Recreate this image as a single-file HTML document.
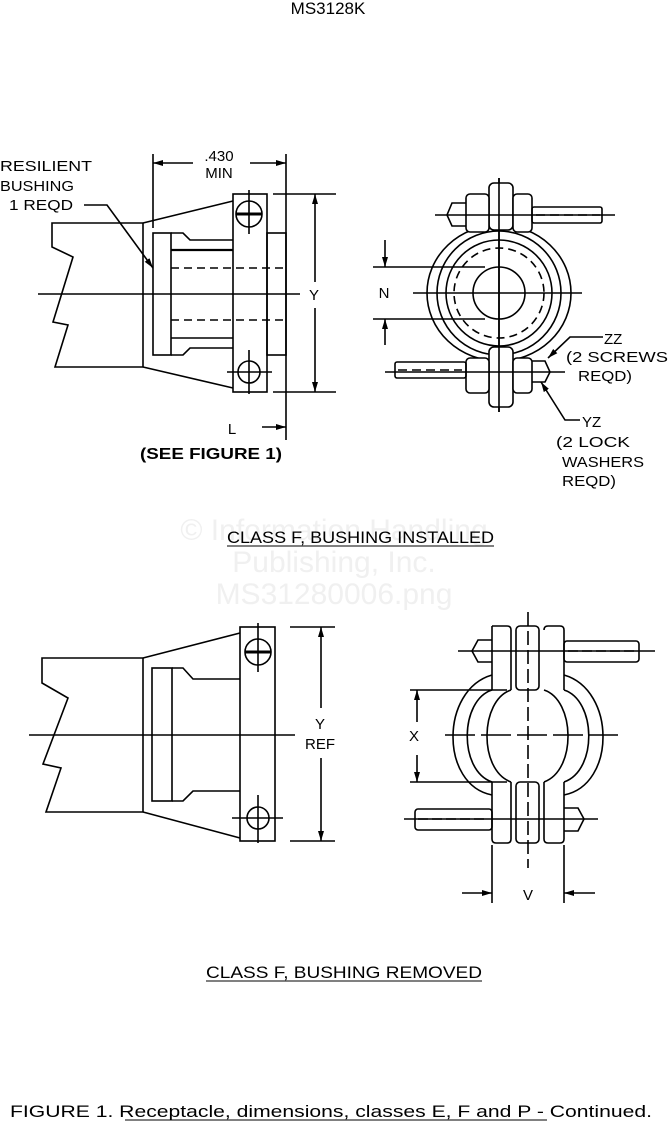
<!DOCTYPE html>
<html><head><meta charset="utf-8"><style>
html,body{margin:0;padding:0;background:#fff;}
svg{display:block;}
text{font-family:"Liberation Sans",sans-serif;fill:#000;}
</style></head><body>
<svg width="668" height="1125" viewBox="0 0 668 1125" xmlns="http://www.w3.org/2000/svg">
<defs>
<marker id="ar" viewBox="0 0 10 6" refX="10" refY="3" markerWidth="10" markerHeight="6" orient="auto-start-reverse" markerUnits="userSpaceOnUse"><path d="M0,0L10,3L0,6z" fill="#000"/></marker>
</defs>
<text x="328" y="14" font-size="17" text-anchor="middle">MS3128K</text>

<!-- watermark -->
<g font-size="30" text-anchor="middle">
<text x="334" y="540" style="fill:#f0f0f0">© Information Handling</text>
<text x="334" y="572" style="fill:#f0f0f0">Publishing, Inc.</text>
<text x="334" y="604" style="fill:#f0f0f0">MS31280006.png</text>
</g>

<g fill="none" stroke="#000" stroke-width="1.6">
<!-- TOP LEFT -->
<polyline points="143,223 52,223 52,247 73,257 53,322 68,325 55,367 143,367"/>
<line x1="143" y1="223" x2="143" y2="367"/>
<line x1="143" y1="223" x2="233" y2="201"/>
<line x1="143" y1="367" x2="233" y2="388"/>
<rect x="233" y="194" width="34" height="198"/>
<rect x="153" y="233" width="18" height="122"/>
<polyline points="171,233 183,233 190,240 233,240"/>
<polyline points="171,355 183,355 190,348 233,348"/>
<line x1="171" y1="250" x2="233" y2="250" stroke-width="2.2"/>
<line x1="171" y1="338" x2="233" y2="338"/>
<line x1="171" y1="268" x2="286" y2="268" stroke-dasharray="8,5"/>
<line x1="171" y1="320" x2="286" y2="320" stroke-dasharray="8,5"/>
<rect x="267" y="233" width="19" height="122"/>
<line x1="38" y1="294" x2="300" y2="294"/>
<circle cx="249" cy="214" r="13"/>
<line x1="236" y1="214" x2="262" y2="214" stroke-width="3"/>
<line x1="249" y1="190" x2="249" y2="234"/>
<circle cx="249" cy="372" r="11"/>
<line x1="227" y1="372" x2="272" y2="372"/>
<line x1="249" y1="350" x2="249" y2="394"/>
<!-- dims -->
<line x1="153" y1="154" x2="153" y2="228"/>
<line x1="286" y1="154" x2="286" y2="440"/>
<line x1="153" y1="163" x2="193" y2="163" marker-start="url(#ar)"/>
<line x1="250" y1="163" x2="286" y2="163" marker-end="url(#ar)"/>
<line x1="273" y1="194" x2="336" y2="194"/>
<line x1="273" y1="392" x2="336" y2="392"/>
<line x1="315" y1="194" x2="315" y2="282" marker-start="url(#ar)"/>
<line x1="315" y1="308" x2="315" y2="392" marker-end="url(#ar)"/>
<line x1="262" y1="427" x2="286" y2="427" marker-end="url(#ar)"/>
<polyline points="84,205 107,205 153,268" marker-end="url(#ar)"/>

<!-- TOP RIGHT -->
<line x1="499" y1="178" x2="499" y2="412"/>
<ellipse cx="499" cy="293" rx="72" ry="68"/>
<ellipse cx="499" cy="293" rx="62" ry="62"/>
<circle cx="499" cy="293" r="53"/>
<circle cx="499" cy="293" r="45" stroke-dasharray="8,5"/>
<circle cx="499" cy="293" r="26"/>
<line x1="413" y1="293" x2="582" y2="293"/>
<rect x="489" y="183" width="24" height="47" rx="5" fill="#fff"/>
<rect x="466" y="194" width="23" height="38" rx="4" fill="#fff"/>
<rect x="513" y="194" width="19" height="38" rx="4" fill="#fff"/>
<rect x="532" y="207" width="70" height="16" rx="2"/>
<line x1="536" y1="215" x2="600" y2="215" stroke-dasharray="9,5"/>
<path d="M466,203 L452,203 L447,215 L452,226 L466,226"/>
<line x1="435" y1="215" x2="615" y2="215"/>
<rect x="489" y="347" width="24" height="60" rx="5" fill="#fff"/>
<rect x="466" y="358" width="23" height="35" rx="4" fill="#fff"/>
<rect x="513" y="358" width="19" height="35" rx="4" fill="#fff"/>
<rect x="395" y="362" width="71" height="16" rx="2"/>
<line x1="398" y1="370" x2="462" y2="370" stroke-dasharray="9,5"/>
<path d="M532,361 L545,361 L550,372 L545,382 L532,382"/>
<line x1="385" y1="372" x2="565" y2="372"/>
<line x1="499" y1="178" x2="499" y2="412"/>
<line x1="373" y1="267" x2="485" y2="267"/>
<line x1="373" y1="319" x2="485" y2="319"/>
<line x1="385" y1="240" x2="385" y2="267" marker-end="url(#ar)"/>
<line x1="385" y1="345" x2="385" y2="319" marker-end="url(#ar)"/>
<polyline points="603,337 570,337 548,358" marker-end="url(#ar)"/>
<polyline points="580,420 565,420 541,382" marker-end="url(#ar)"/>

<!-- BOTTOM LEFT -->
<polyline points="143,658 42,658 42,683 68,698 43,764 61,768 46,812 143,812"/>
<line x1="143" y1="658" x2="143" y2="812"/>
<line x1="143" y1="658" x2="240" y2="633"/>
<line x1="143" y1="812" x2="240" y2="838"/>
<rect x="240" y="627" width="35" height="214"/>
<rect x="152" y="668" width="20" height="133"/>
<polyline points="172,668 183,668 193,679 240,679"/>
<polyline points="172,801 183,801 193,791 240,791"/>
<line x1="29" y1="735" x2="295" y2="735"/>
<circle cx="258" cy="652" r="13"/>
<line x1="245" y1="652" x2="271" y2="652" stroke-width="3"/>
<line x1="258" y1="623" x2="258" y2="672"/>
<circle cx="258" cy="818" r="11"/>
<line x1="232" y1="818" x2="283" y2="818"/>
<line x1="258" y1="795" x2="258" y2="843"/>
<line x1="290" y1="627" x2="335" y2="627"/>
<line x1="290" y1="841" x2="335" y2="841"/>
<line x1="321" y1="627" x2="321" y2="708" marker-start="url(#ar)"/>
<line x1="321" y1="758" x2="321" y2="841" marker-end="url(#ar)"/>

<!-- BOTTOM RIGHT -->
<path d="M492,675 C440,690 440,785 492,795"/>
<path d="M564,675 C616,690 616,785 564,795"/>
<path d="M492,690 C460,700 458,770 492,782"/>
<path d="M564,690 C596,700 598,770 564,782"/>
<path d="M511,690 C480,700 478,770 511,782"/>
<path d="M544,690 C575,700 577,770 544,782"/>
<path d="M492,626 Q492,626 496,626 L507,626 Q511,626 511,630 L511,690"/>
<path d="M492,626 L492,690"/>
<path d="M544,630 Q544,626 548,626 L560,626 Q564,626 564,630 L564,690"/>
<path d="M511,782 L511,839 Q511,843 507,843 L496,843 Q492,843 492,839 L492,782"/>
<path d="M544,782 L544,839 Q544,843 548,843 L560,843 Q564,843 564,839 L564,782"/>
<rect x="516" y="626" width="23" height="64" rx="4"/>
<rect x="516" y="782" width="23" height="61" rx="4"/>
<line x1="528" y1="612" x2="528" y2="868" stroke-dasharray="14,5"/>
<line x1="445" y1="735" x2="618" y2="735" stroke-dasharray="30,6"/>
<rect x="564" y="641" width="75" height="21" rx="3"/>
<line x1="568" y1="651" x2="636" y2="651" stroke-dasharray="10,4"/>
<path d="M492,640 L478,640 L472,651 L478,662 L492,662"/>
<line x1="458" y1="651" x2="655" y2="651"/>
<rect x="415" y="809" width="77" height="21" rx="3"/>
<line x1="418" y1="819" x2="488" y2="819" stroke-dasharray="10,4"/>
<path d="M564,808 L578,808 L584,819 L578,831 L564,831"/>
<line x1="404" y1="819" x2="598" y2="819"/>
<line x1="410" y1="690" x2="507" y2="690"/>
<line x1="410" y1="782" x2="507" y2="782"/>
<line x1="417" y1="690" x2="417" y2="722" marker-start="url(#ar)"/>
<line x1="417" y1="755" x2="417" y2="782" marker-end="url(#ar)"/>
<line x1="492" y1="845" x2="492" y2="903"/>
<line x1="564" y1="845" x2="564" y2="903"/>
<line x1="462" y1="893" x2="492" y2="893" marker-end="url(#ar)"/>
<line x1="595" y1="893" x2="564" y2="893" marker-end="url(#ar)"/>
</g>

<g font-size="15">
<text x="0" y="171" textLength="92" lengthAdjust="spacingAndGlyphs">RESILIENT</text>
<text x="0" y="191" textLength="74" lengthAdjust="spacingAndGlyphs">BUSHING</text>
<text x="9" y="210" textLength="64" lengthAdjust="spacingAndGlyphs">1 REQD</text>
<text x="219" y="161" text-anchor="middle">.430</text>
<text x="219" y="178" text-anchor="middle">MIN</text>
<text x="314" y="300" text-anchor="middle">Y</text>
<text x="232" y="434" text-anchor="middle">L</text>
<text x="140" y="459" font-weight="bold" font-size="16" textLength="142" lengthAdjust="spacingAndGlyphs">(SEE FIGURE 1)</text>
<text x="384" y="298" text-anchor="middle">N</text>
<text x="604" y="344">ZZ</text>
<text x="566" y="362" textLength="102" lengthAdjust="spacingAndGlyphs">(2 SCREWS</text>
<text x="578" y="381" textLength="54" lengthAdjust="spacingAndGlyphs">REQD)</text>
<text x="582" y="427">YZ</text>
<text x="556" y="447" textLength="74" lengthAdjust="spacingAndGlyphs">(2 LOCK</text>
<text x="562" y="467" textLength="82" lengthAdjust="spacingAndGlyphs">WASHERS</text>
<text x="562" y="486" textLength="54" lengthAdjust="spacingAndGlyphs">REQD)</text>
<text x="320" y="729" text-anchor="middle">Y</text>
<text x="320" y="749" text-anchor="middle">REF</text>
<text x="414" y="741" text-anchor="middle">X</text>
<text x="528" y="900" text-anchor="middle">V</text>
</g>
<text x="227" y="543" font-size="17" textLength="267" lengthAdjust="spacingAndGlyphs">CLASS F, BUSHING INSTALLED</text>
<line x1="227" y1="546" x2="494" y2="546" stroke="#000" stroke-width="1"/>
<text x="206" y="978" font-size="17" textLength="276" lengthAdjust="spacingAndGlyphs">CLASS F, BUSHING REMOVED</text>
<line x1="206" y1="981" x2="482" y2="981" stroke="#000" stroke-width="1"/>
<text x="10" y="1117" font-size="17" textLength="642" lengthAdjust="spacingAndGlyphs">FIGURE 1.  Receptacle, dimensions, classes E, F and P - Continued.</text>
<line x1="125" y1="1120" x2="547" y2="1120" stroke="#000" stroke-width="1"/>
</svg>
</body></html>
